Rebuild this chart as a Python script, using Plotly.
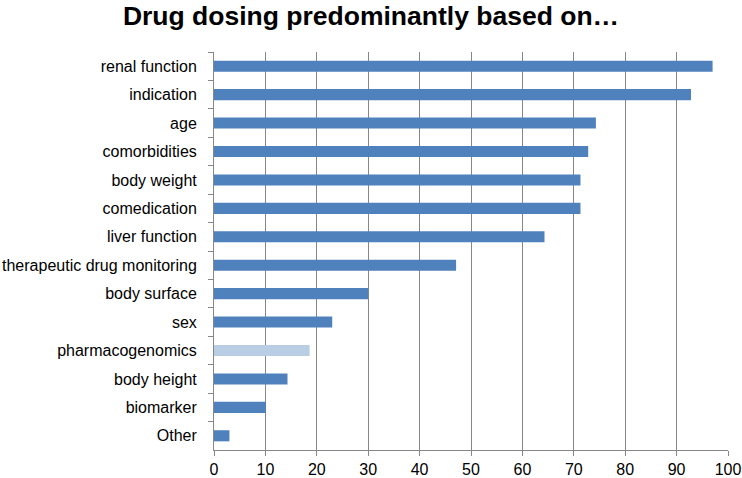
import plotly.graph_objects as go

categories = ["renal function", "indication", "age", "comorbidities", "body weight",
              "comedication", "liver function", "therapeutic drug monitoring",
              "body surface", "sex", "pharmacogenomics", "body height", "biomarker", "Other"]
values = [97.0, 92.8, 74.3, 72.8, 71.3, 71.3, 64.3, 47.1, 30.0, 23.0, 18.6, 14.3, 10.1, 3.0]
highlight = "pharmacogenomics"

bar_colors = ["#B9CDE5" if c == highlight else "#4F81BD" for c in categories]
font_family = "Liberation Sans, Arial, sans-serif"

fig = go.Figure()
fig.add_trace(go.Bar(
    y=categories,
    x=values,
    orientation="h",
    marker=dict(color=bar_colors, line=dict(width=0)),
    showlegend=False,
))

fig.update_layout(
    width=742,
    height=478,
    margin=dict(l=214, r=14, t=52, b=28),
    paper_bgcolor="white",
    plot_bgcolor="white",
    bargap=0.61,
    title=dict(
        text="<b>Drug dosing predominantly based on…</b>",
        x=0.5, xanchor="center", y=0.9875, yanchor="top",
        font=dict(family=font_family, size=26.5, color="black"),
    ),
    font=dict(family=font_family, color="black"),
)

fig.update_xaxes(
    range=[0, 100],
    dtick=10,
    showgrid=True,
    gridcolor="#878787",
    gridwidth=1,
    showline=True,
    linecolor="#878787",
    ticks="outside",
    ticklen=5,
    tickcolor="#878787",
    tickfont=dict(size=16),
    ticklabelstandoff=0,
    zeroline=False,
    automargin=False,
)
fig.update_yaxes(
    autorange="reversed",
    showline=True,
    linecolor="#878787",
    ticks="outside",
    tickson="boundaries",
    ticklen=5,
    tickcolor="#878787",
    tickfont=dict(size=16),
    ticklabelstandoff=13,
    showgrid=False,
    automargin=False,
)

# drop the browser's default 8px body margin so the figure sits at the page corner
fig.write_html("out.html", config={"displayModeBar": False},
               post_script="document.body.style.margin = '0';")
